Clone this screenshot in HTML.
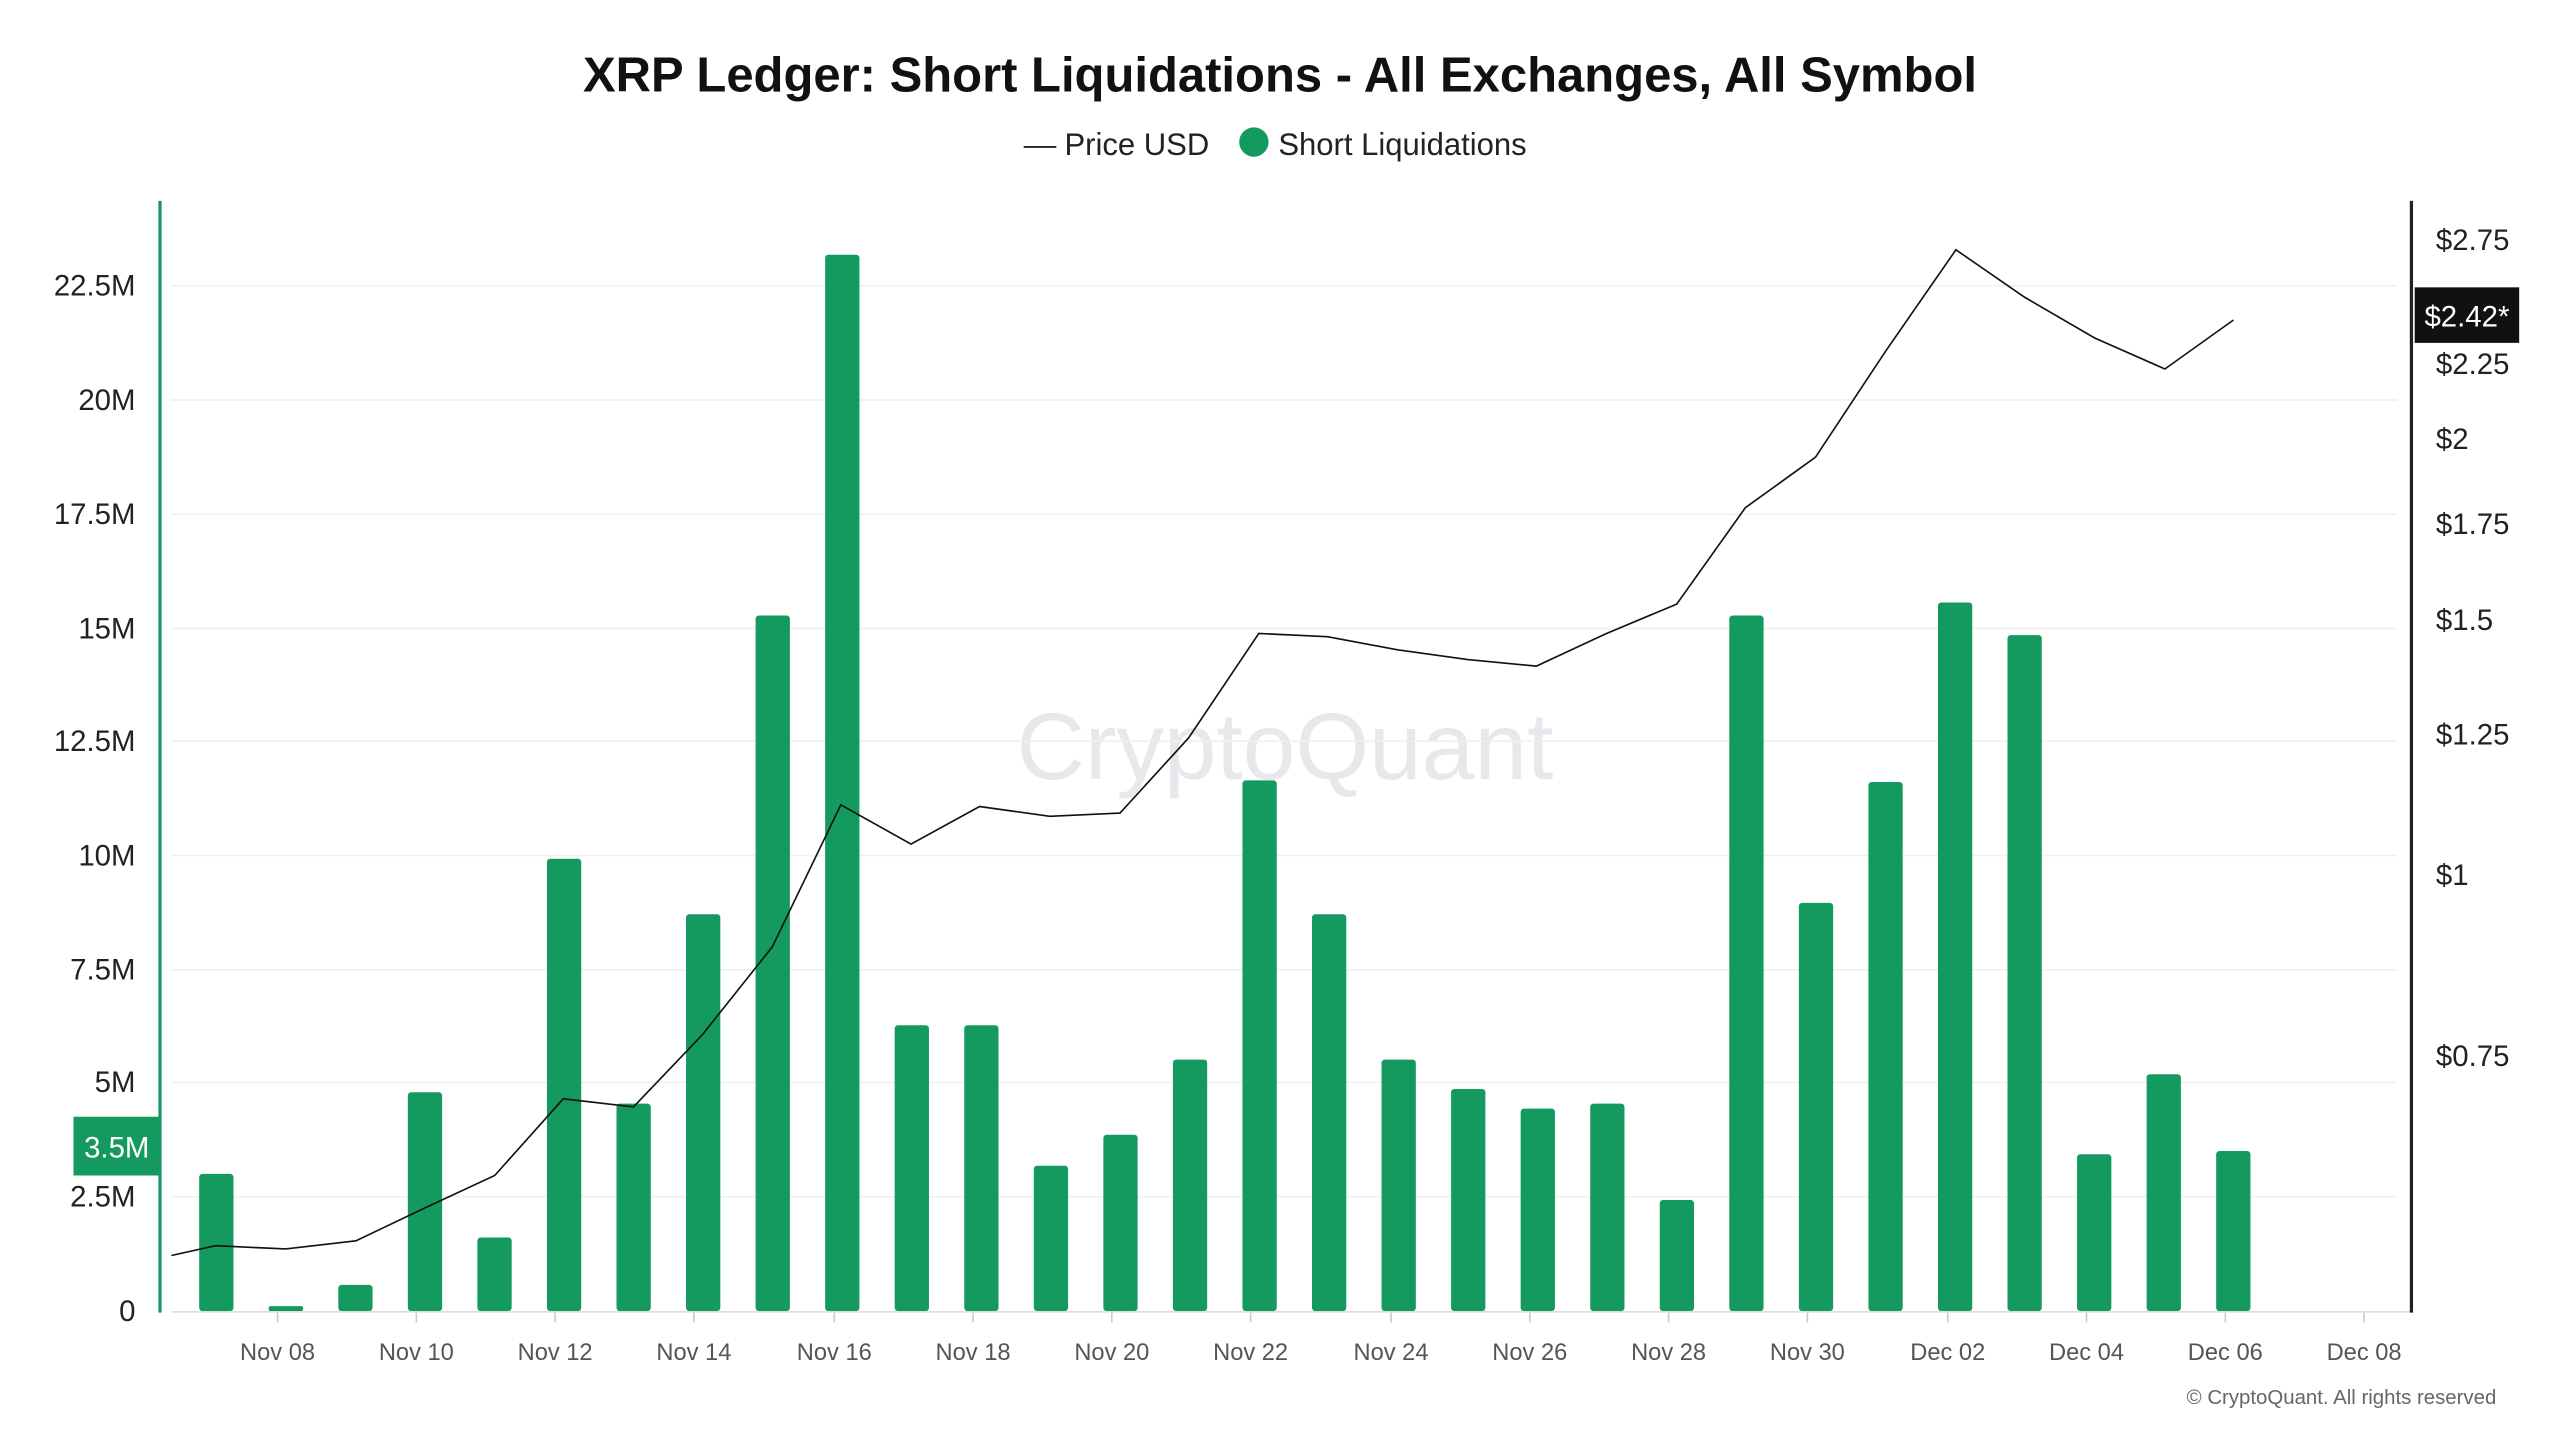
<!DOCTYPE html>
<html><head><meta charset="utf-8"><style>
html,body{margin:0;padding:0;background:#fff;}
svg{display:block;font-family:"Liberation Sans",sans-serif;}
</style></head><body>
<svg width="2560" height="1440" viewBox="0 0 1568 882" xmlns="http://www.w3.org/2000/svg">
<rect width="1568" height="882" fill="#fff"/>
<text x="784" y="56" text-anchor="middle" font-size="30" font-weight="bold" fill="#111">XRP Ledger: Short Liquidations - All Exchanges, All Symbol</text>
<line x1="627" y1="90" x2="647" y2="90" stroke="#222" stroke-width="1.2"/>
<text x="652" y="95" font-size="19" fill="#222">Price USD</text>
<circle cx="768" cy="87" r="9" fill="#149a5e"/>
<text x="783" y="95" font-size="19" fill="#222">Short Liquidations</text>
<text x="787" y="477" text-anchor="middle" font-size="58" fill="#e8e8ec">CryptoQuant</text>
<g stroke="#f0f0f0" stroke-width="1">
<line x1="105" y1="733" x2="1468" y2="733"/><line x1="105" y1="663" x2="1468" y2="663"/>
<line x1="105" y1="594" x2="1468" y2="594"/><line x1="105" y1="524" x2="1468" y2="524"/>
<line x1="105" y1="454" x2="1468" y2="454"/><line x1="105" y1="385" x2="1468" y2="385"/>
<line x1="105" y1="315" x2="1468" y2="315"/><line x1="105" y1="245" x2="1468" y2="245"/>
<line x1="105" y1="175" x2="1468" y2="175"/>
</g>
<line x1="105" y1="803.5" x2="1476" y2="803.5" stroke="#ddd" stroke-width="1"/>
<g font-size="18" fill="#222" text-anchor="end">
<text x="83" y="809">0</text><text x="83" y="739">2.5M</text><text x="83" y="669">5M</text>
<text x="83" y="600">7.5M</text><text x="83" y="530">10M</text><text x="83" y="460">12.5M</text>
<text x="83" y="391">15M</text><text x="83" y="321">17.5M</text><text x="83" y="251">20M</text>
<text x="83" y="181">22.5M</text>
</g>
<g font-size="18" fill="#222">
<text x="1492" y="153">$2.75</text><text x="1492" y="229">$2.25</text><text x="1492" y="275">$2</text>
<text x="1492" y="327">$1.75</text><text x="1492" y="386">$1.5</text><text x="1492" y="456">$1.25</text>
<text x="1492" y="542">$1</text><text x="1492" y="653">$0.75</text>
</g>
<g fill="#149a5e">
<rect x="122" y="719" width="21" height="84" rx="2"/>
<rect x="164.6" y="800" width="21" height="3" rx="1"/>
<rect x="207.2" y="787" width="21" height="16" rx="2"/>
<rect x="249.8" y="669" width="21" height="134" rx="2"/>
<rect x="292.4" y="758" width="21" height="45" rx="2"/>
<rect x="335" y="526" width="21" height="277" rx="2"/>
<rect x="377.6" y="676" width="21" height="127" rx="2"/>
<rect x="420.2" y="560" width="21" height="243" rx="2"/>
<rect x="462.8" y="377" width="21" height="426" rx="2"/>
<rect x="505.4" y="156" width="21" height="647" rx="2"/>
<rect x="548" y="628" width="21" height="175" rx="2"/>
<rect x="590.6" y="628" width="21" height="175" rx="2"/>
<rect x="633.2" y="714" width="21" height="89" rx="2"/>
<rect x="675.8" y="695" width="21" height="108" rx="2"/>
<rect x="718.4" y="649" width="21" height="154" rx="2"/>
<rect x="761" y="478" width="21" height="325" rx="2"/>
<rect x="803.6" y="560" width="21" height="243" rx="2"/>
<rect x="846.2" y="649" width="21" height="154" rx="2"/>
<rect x="888.8" y="667" width="21" height="136" rx="2"/>
<rect x="931.4" y="679" width="21" height="124" rx="2"/>
<rect x="974" y="676" width="21" height="127" rx="2"/>
<rect x="1016.6" y="735" width="21" height="68" rx="2"/>
<rect x="1059.2" y="377" width="21" height="426" rx="2"/>
<rect x="1101.8" y="553" width="21" height="250" rx="2"/>
<rect x="1144.4" y="479" width="21" height="324" rx="2"/>
<rect x="1187" y="369" width="21" height="434" rx="2"/>
<rect x="1229.6" y="389" width="21" height="414" rx="2"/>
<rect x="1272.2" y="707" width="21" height="96" rx="2"/>
<rect x="1314.8" y="658" width="21" height="145" rx="2"/>
<rect x="1357.4" y="705" width="21" height="98" rx="2"/>
</g>
<polyline fill="none" stroke="#111" stroke-width="1" points="105,769 132,763 175,765 218,760 260,740 303,720 345,673 388,678 430,634 473,580 515,493 558,517 600,494 643,500 686,498 728,452 771,388 813,390 856,398 899,404 941,408 984,388 1027,370 1069,311 1112,280 1155,215 1198,153 1240,182 1283,207 1326,226 1368,196"/>
<line x1="98" y1="123" x2="98" y2="804" stroke="#149a5e" stroke-width="2"/>
<line x1="1477" y1="123" x2="1477" y2="804" stroke="#222" stroke-width="2"/>
<rect x="45" y="684" width="53" height="36" fill="#149a5e"/>
<text x="71.5" y="709" text-anchor="middle" font-size="18" fill="#fff">3.5M</text>
<rect x="1479" y="176" width="64" height="34" fill="#111"/>
<text x="1511" y="200" text-anchor="middle" font-size="18" fill="#fff">$2.42*</text>
<g stroke="#ccc" stroke-width="1">
<line x1="170" y1="804" x2="170" y2="810"/><line x1="255" y1="804" x2="255" y2="810"/>
<line x1="340" y1="804" x2="340" y2="810"/><line x1="425" y1="804" x2="425" y2="810"/>
<line x1="511" y1="804" x2="511" y2="810"/><line x1="596" y1="804" x2="596" y2="810"/>
<line x1="681" y1="804" x2="681" y2="810"/><line x1="766" y1="804" x2="766" y2="810"/>
<line x1="852" y1="804" x2="852" y2="810"/><line x1="937" y1="804" x2="937" y2="810"/>
<line x1="1022" y1="804" x2="1022" y2="810"/><line x1="1107" y1="804" x2="1107" y2="810"/>
<line x1="1193" y1="804" x2="1193" y2="810"/><line x1="1278" y1="804" x2="1278" y2="810"/>
<line x1="1363" y1="804" x2="1363" y2="810"/><line x1="1448" y1="804" x2="1448" y2="810"/>
</g>
<g font-size="14.5" fill="#555" text-anchor="middle">
<text x="170" y="833">Nov 08</text><text x="255" y="833">Nov 10</text><text x="340" y="833">Nov 12</text>
<text x="425" y="833">Nov 14</text><text x="511" y="833">Nov 16</text><text x="596" y="833">Nov 18</text>
<text x="681" y="833">Nov 20</text><text x="766" y="833">Nov 22</text><text x="852" y="833">Nov 24</text>
<text x="937" y="833">Nov 26</text><text x="1022" y="833">Nov 28</text><text x="1107" y="833">Nov 30</text>
<text x="1193" y="833">Dec 02</text><text x="1278" y="833">Dec 04</text><text x="1363" y="833">Dec 06</text>
<text x="1448" y="833">Dec 08</text>
</g>
<text x="1529" y="860" text-anchor="end" font-size="12.5" fill="#666">© CryptoQuant. All rights reserved</text>
</svg>
</body></html>
